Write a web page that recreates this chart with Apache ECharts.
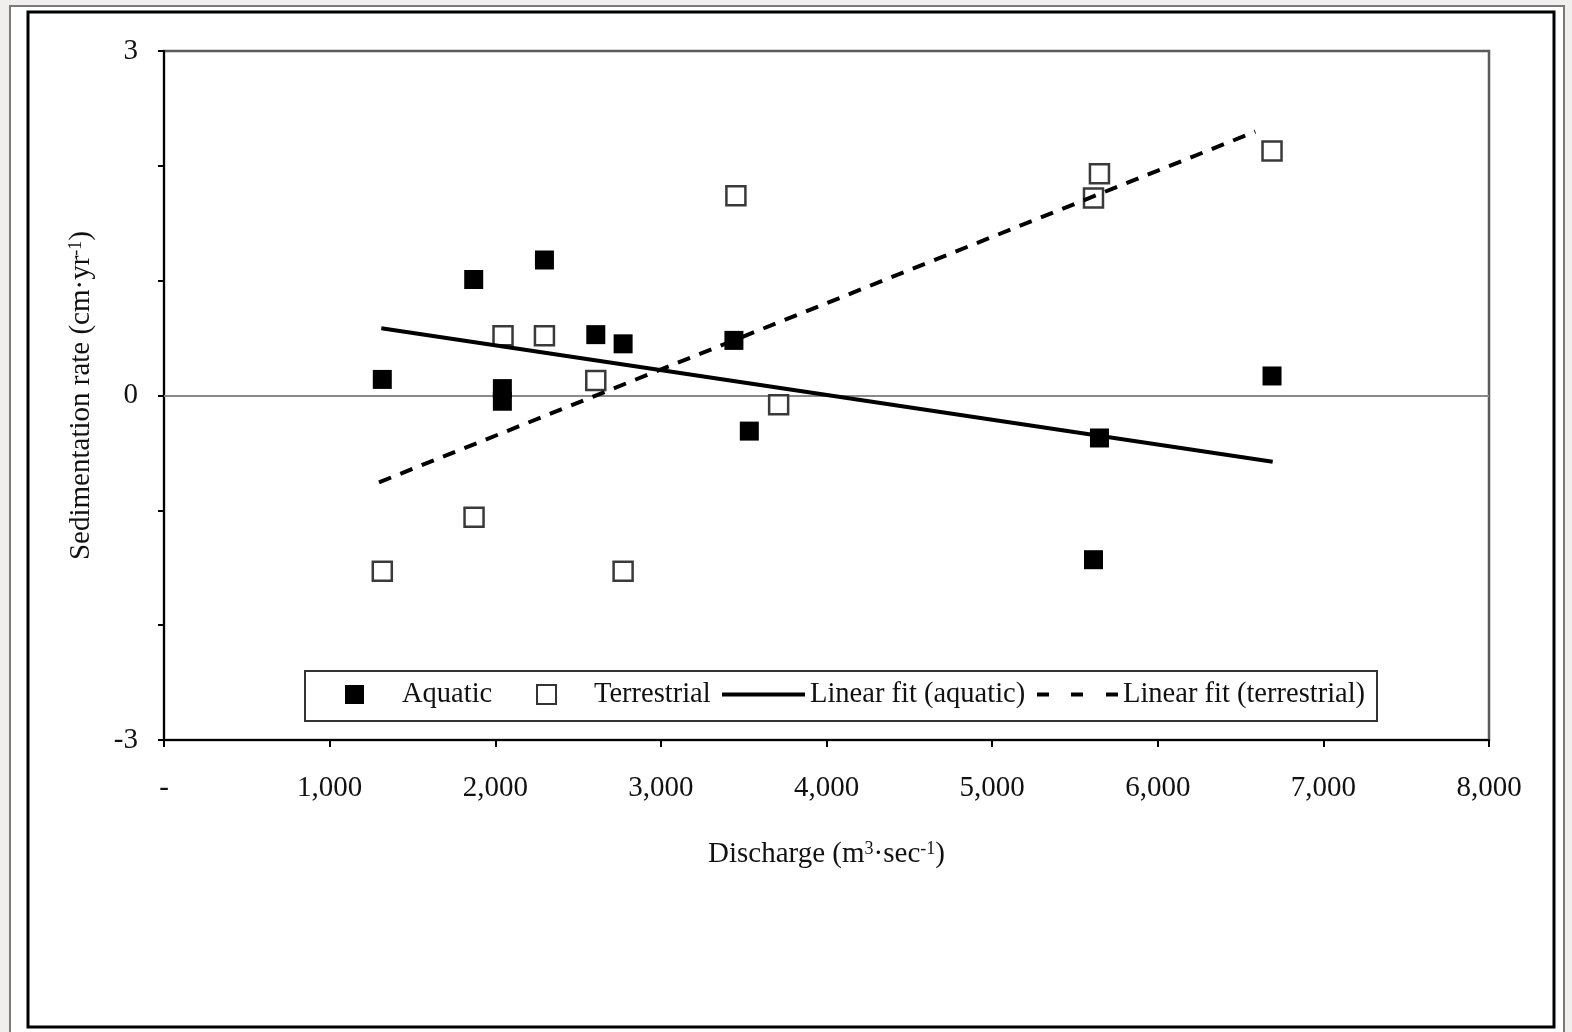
<!DOCTYPE html>
<html>
<head>
<meta charset="utf-8">
<title>Sedimentation rate vs discharge</title>
<script src="https://cdn.jsdelivr.net/npm/echarts@6/dist/echarts.min.js"></script>
<style>
  html, body { margin: 0; padding: 0; background: #f0efed; }
  #chart { width: 1572px; height: 1032px; }
</style>
</head>
<body>
<div id="chart"></div>
<script>
// data: [discharge, sedimentation rate]
var aquatic = [
  [1318, 0.14], [1870, 1.01], [2043, 0.06], [2043, -0.05], [2297, 1.18],
  [2607, 0.53], [2772, 0.45], [3441, 0.48], [3534, -0.31], [5612, -1.43],
  [5648, -0.37], [6690, 0.17]
];
var terrestrial = [
  [1318, -1.53], [1872, -1.06], [2047, 0.52], [2297, 0.52], [2607, 0.13],
  [2772, -1.53], [3453, 1.74], [3711, -0.08], [5612, 1.72], [5648, 1.93],
  [6690, 2.13]
];
// end points of the two fitted lines
var fitAquatic = [[1312, 0.585], [6694, -0.577]];
var fitTerrestrial = [[1298, -0.756], [6589, 2.298]];

var xTickLabels = ["-", "1,000", "2,000", "3,000", "4,000", "5,000", "6,000", "7,000", "8,000"];
var yTickLabels = ["-3", "", "", "0", "", "", "3"];

var seriesNames = ["Aquatic", "Terrestrial", "Linear fit (aquatic)", "Linear fit (terrestrial)"];

var FONT = "'Liberation Serif', 'Times New Roman', serif";
var FS = 29;

var chart = echarts.init(document.getElementById("chart"));

// one legend per entry so each can sit where it does in the picture
function legendAt(name, left, opts) {
  var item = Object.assign({ name: name }, opts.item || {});
  return {
    data: [item],
    left: left,
    top: 680,
    padding: 0,
    itemWidth: opts.w,
    itemHeight: opts.h,
    selectedMode: false,
    textStyle: {
      fontFamily: FONT,
      fontSize: 28.5,
      color: "#111",
      padding: [0, 0, 0, opts.pad || 0]
    }
  };
}

chart.setOption({
  animation: false,
  backgroundColor: "#f0efed",
  textStyle: { fontFamily: FONT },
  graphic: [
    {
      type: "rect",
      z: -10,
      shape: { x: 10, y: 6, width: 1554, height: 1030 },
      style: { fill: "#fff", stroke: "#7a7a7a", lineWidth: 2 }
    },
    {
      type: "rect",
      z: -9,
      shape: { x: 28, y: 12, width: 1526, height: 1015 },
      style: { fill: "#fff", stroke: "#000", lineWidth: 3 }
    },
    {
      // legend frame
      type: "rect",
      z: 1,
      shape: { x: 305, y: 671, width: 1072, height: 50 },
      style: { fill: "#fff", stroke: "#333", lineWidth: 2 }
    }
  ],
  grid: {
    left: 164,
    right: 83,
    top: 51,
    bottom: 292,
    show: true,
    borderColor: "#5a5a5a",
    borderWidth: 2.5,
    backgroundColor: "#fff"
  },
  legend: [
    legendAt(seriesNames[0], 345, { w: 19, h: 19, pad: 33, item: { icon: "rect", itemStyle: { color: "#000" } } }),
    legendAt(seriesNames[1], 536, {
      w: 19, h: 19, pad: 33,
      item: { icon: "rect", itemStyle: { color: "#fff", borderColor: "#333", borderWidth: 2 } }
    }),
    legendAt(seriesNames[2], 722, {
      w: 83, h: 4,
      item: { icon: "rect", itemStyle: { color: "#000", borderWidth: 0 } }
    }),
    legendAt(seriesNames[3], 1037, {
      w: 81, h: 4,
      item: {
        icon: "path://M0,0h12v4h-12zM34,0h12v4h-12zM69,0h12v4h-12z",
        itemStyle: { color: "#000", borderWidth: 0 }
      }
    })
  ],
  xAxis: {
    type: "value",
    min: 0,
    max: 8000,
    interval: 1000,
    name: "Discharge (m{sup|3}·sec{sup|-1})",
    nameLocation: "middle",
    nameGap: 100,
    nameTextStyle: {
      fontFamily: FONT,
      fontSize: FS,
      color: "#111",
      rich: {
        sup: { fontSize: 18, verticalAlign: "top", fontFamily: FONT, color: "#111" }
      }
    },
    axisLine: { onZero: false, lineStyle: { color: "#000", width: 2 } },
    axisTick: { show: true, length: 7, lineStyle: { color: "#000", width: 2 } },
    splitLine: { show: false },
    axisLabel: {
      margin: 34,
      fontFamily: FONT,
      fontSize: FS,
      color: "#111",
      formatter: function (v) { return xTickLabels[Math.round(v / 1000)]; }
    }
  },
  yAxis: {
    type: "value",
    min: -3,
    max: 3,
    interval: 1,
    name: "Sedimentation rate (cm·yr{sup|-1})",
    nameLocation: "middle",
    nameGap: 68,
    nameRotate: 90,
    nameTextStyle: {
      fontFamily: FONT,
      fontSize: FS,
      color: "#111",
      rich: {
        sup: { fontSize: 18, verticalAlign: "top", fontFamily: FONT, color: "#111" }
      }
    },
    axisLine: { show: true, onZero: false, lineStyle: { color: "#000", width: 2 } },
    axisTick: { show: true, length: 6, lineStyle: { color: "#000", width: 2 } },
    splitLine: { show: false },
    axisLabel: {
      margin: 26,
      fontFamily: FONT,
      fontSize: FS,
      color: "#111",
      formatter: function (v) { return yTickLabels[Math.round(v + 3)]; }
    }
  },
  series: [
    {
      name: seriesNames[0],
      type: "scatter",
      symbol: "rect",
      symbolSize: 19,
      z: 3,
      itemStyle: { color: "#000", opacity: 1 },
      data: aquatic,
      markLine: {
        silent: true,
        z: 1,
        symbol: "none",
        label: { show: false },
        lineStyle: { color: "#8a8a8a", width: 2, type: "solid" },
        data: [{ yAxis: 0 }]
      }
    },
    {
      name: seriesNames[1],
      type: "scatter",
      symbol: "rect",
      symbolSize: 19,
      z: 3,
      itemStyle: { color: "#fff", borderColor: "#3a3a3a", borderWidth: 2.5, opacity: 1 },
      data: terrestrial
    },
    {
      name: seriesNames[2],
      type: "line",
      symbol: "none",
      z: 4,
      itemStyle: { color: "#000" },
      lineStyle: { color: "#000", width: 4, type: "solid" },
      data: fitAquatic
    },
    {
      name: seriesNames[3],
      type: "line",
      symbol: "none",
      z: 4,
      itemStyle: { color: "#000" },
      lineStyle: { color: "#000", width: 4, type: [13, 10] },
      data: fitTerrestrial
    }
  ]
});
</script>
</body>
</html>
